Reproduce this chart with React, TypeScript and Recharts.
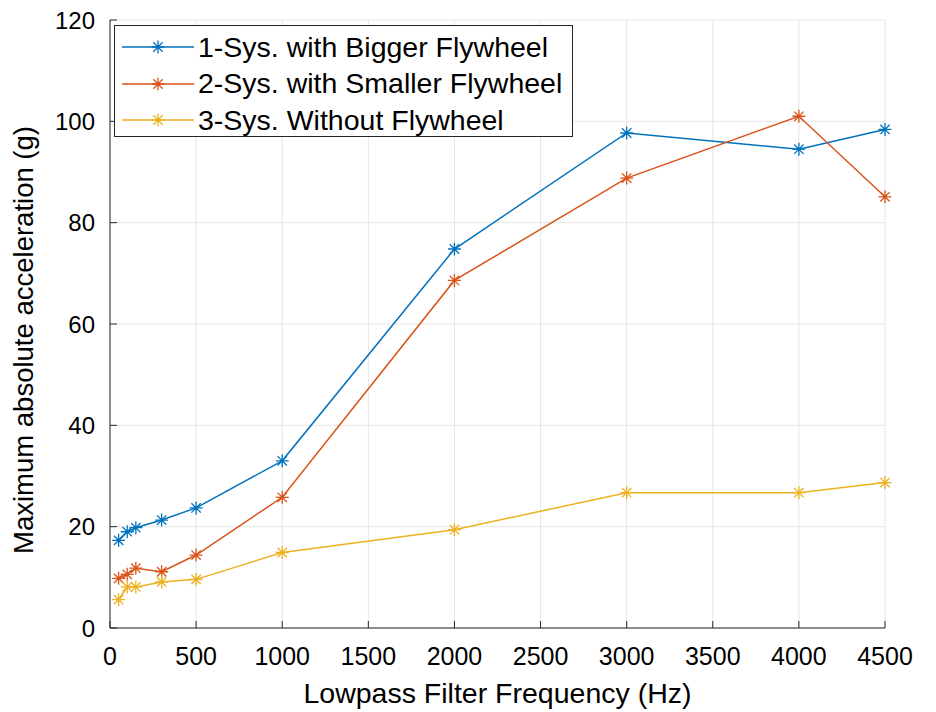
import React from 'react';
import {
  LineChart,
  Line,
  XAxis,
  YAxis,
  CartesianGrid,
} from 'recharts';

const frequencies = [50, 100, 150, 300, 500, 1000, 2000, 3000, 4000, 4500];
const biggerFlywheel = [17.3, 19.0, 19.8, 21.3, 23.7, 33.0, 74.8, 97.7, 94.5, 98.4];
const smallerFlywheel = [9.8, 10.6, 11.8, 11.1, 14.4, 25.8, 68.6, 88.8, 101.0, 85.1];
const withoutFlywheel = [5.6, 8.1, 8.1, 9.1, 9.6, 14.9, 19.4, 26.7, 26.7, 28.7];

const xTicks = [0, 500, 1000, 1500, 2000, 2500, 3000, 3500, 4000, 4500];
const yTicks = [0, 20, 40, 60, 80, 100, 120];

const SERIES = [
  { key: 'big', name: '1-Sys. with Bigger Flywheel', color: '#0072BD' },
  { key: 'small', name: '2-Sys. with Smaller Flywheel', color: '#D95319' },
  { key: 'none', name: '3-Sys. Without Flywheel', color: '#EDB120' },
];

const data = frequencies.map((f, i) => ({
  f,
  big: biggerFlywheel[i],
  small: smallerFlywheel[i],
  none: withoutFlywheel[i],
}));

const FONT = '"Liberation Sans", Arial, Helvetica, sans-serif';
const AXIS = '#262626';
const TICK = 7;

// MATLAB style '*' marker
function starPath(cx: number, cy: number, r: number) {
  const k = r * 0.72;
  return (
    `M${cx - r},${cy}L${cx + r},${cy}` +
    `M${cx},${cy - r}L${cx},${cy + r}` +
    `M${cx - k},${cy - k}L${cx + k},${cy + k}` +
    `M${cx - k},${cy + k}L${cx + k},${cy - k}`
  );
}

const Star = (props: any) => {
  const { cx, cy, stroke } = props;
  if (cx == null || cy == null) return null;
  return <path d={starPath(cx, cy, 6.5)} stroke={stroke} strokeWidth={1.3} fill="none" />;
};

const BottomTick = (props: any) => {
  const { x, y, payload } = props;
  return (
    <g>
      <line x1={x} x2={x} y1={y} y2={y - TICK} stroke={AXIS} strokeWidth={1} />
      <text x={x} y={y + 37} textAnchor="middle" fontSize={25} fontFamily={FONT} fill="#000">
        {payload.value}
      </text>
    </g>
  );
};

const TopTick = (props: any) => {
  const { x, y } = props;
  return <line x1={x} x2={x} y1={y} y2={y + TICK} stroke={AXIS} strokeWidth={1} />;
};

const LeftTick = (props: any) => {
  const { x, y, payload } = props;
  return (
    <g>
      <line x1={x} x2={x + TICK} y1={y} y2={y} stroke={AXIS} strokeWidth={1} />
      <text x={x - 15} y={y + 8.5} textAnchor="end" fontSize={24} fontFamily={FONT} fill="#000">
        {payload.value}
      </text>
    </g>
  );
};

const RightTick = (props: any) => {
  const { x, y } = props;
  return <line x1={x} x2={x - TICK} y1={y} y2={y} stroke={AXIS} strokeWidth={1} />;
};

const XLabel = (props: any) => {
  const { x, y, width } = props.viewBox;
  return (
    <text x={x + width / 2} y={y + 75} textAnchor="middle" fontSize={28.5} fontFamily={FONT} fill="#000">
      Lowpass Filter Frequency (Hz)
    </text>
  );
};

const YLabel = (props: any) => {
  const { x, y, height } = props.viewBox;
  const cx = x + 33;
  const cy = y + height / 2 + 16;
  return (
    <text
      x={cx}
      y={cy}
      transform={`rotate(-90 ${cx} ${cy})`}
      textAnchor="middle"
      fontSize={27.5}
      fontFamily={FONT}
      fill="#000"
    >
      Maximum absolute acceleration (g)
    </text>
  );
};

const LegendBox = () => (
  <div
    style={{
      position: 'absolute',
      left: 114,
      top: 25,
      width: 459,
      height: 112,
      border: '1px solid #262626',
      background: '#fff',
      boxSizing: 'border-box',
      paddingTop: 3,
    }}
  >
    {SERIES.map((s) => (
      <div key={s.key} style={{ display: 'flex', alignItems: 'center', height: 36.5 }}>
        <svg width={83} height={20} style={{ flex: 'none' }}>
          <line x1={7} x2={79} y1={10} y2={10} stroke={s.color} strokeWidth={1.5} />
          <path d={starPath(43, 10, 6.5)} stroke={s.color} strokeWidth={1.3} fill="none" />
        </svg>
        <span style={{ fontFamily: FONT, fontSize: 28.5, color: '#000', whiteSpace: 'nowrap' }}>
          {s.name}
        </span>
      </div>
    ))}
  </div>
);

export default function App() {
  return (
    <div style={{ position: 'absolute', left: 0, top: 0, width: 936, height: 712, background: '#fff' }}>
      <LineChart width={936} height={712} data={data} margin={{ top: 20, right: 51, left: 0, bottom: 0 }}>
        <CartesianGrid stroke="#e6e6e6" strokeWidth={1} />
        <XAxis
          dataKey="f"
          type="number"
          domain={[0, 4500]}
          ticks={xTicks}
          height={84}
          tickSize={0}
          tickMargin={0}
          tickLine={false}
          tick={<BottomTick />}
          axisLine={{ stroke: AXIS, strokeWidth: 1 }}
          label={<XLabel />}
          interval={0}
        />
        <XAxis
          xAxisId="top"
          orientation="top"
          dataKey="f"
          type="number"
          domain={[0, 4500]}
          ticks={xTicks}
          height={0}
          tickSize={0}
          tickMargin={0}
          tickLine={false}
          tick={<TopTick />}
          axisLine={{ stroke: AXIS, strokeWidth: 1 }}
          interval={0}
        />
        <YAxis
          type="number"
          domain={[0, 120]}
          ticks={yTicks}
          width={110}
          tickSize={0}
          tickMargin={0}
          tickLine={false}
          tick={<LeftTick />}
          axisLine={{ stroke: AXIS, strokeWidth: 1 }}
          label={<YLabel />}
          interval={0}
        />
        <YAxis
          yAxisId="right"
          orientation="right"
          type="number"
          domain={[0, 120]}
          ticks={yTicks}
          width={0}
          tickSize={0}
          tickMargin={0}
          tickLine={false}
          tick={<RightTick />}
          axisLine={{ stroke: AXIS, strokeWidth: 1 }}
          interval={0}
        />
        {SERIES.map((s) => (
          <Line
            key={s.key}
            dataKey={s.key}
            name={s.name}
            type="linear"
            stroke={s.color}
            strokeWidth={1.5}
            dot={<Star />}
            activeDot={false}
            isAnimationActive={false}
          />
        ))}
      </LineChart>
      <LegendBox />
    </div>
  );
}
